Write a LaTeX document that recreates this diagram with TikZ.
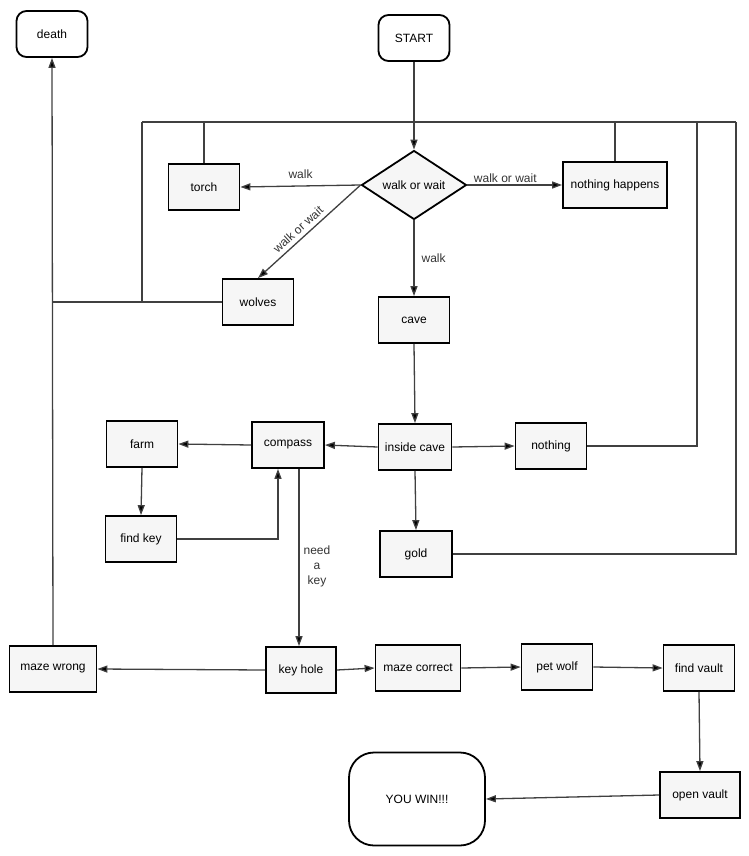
\documentclass[tikz,border=0pt]{standalone}
\usepackage{fontspec}
\setmainfont{Liberation Sans}
\usetikzlibrary{shapes.geometric,arrows.meta,calc}
\begin{document}
\begin{tikzpicture}[x=1pt,y=-1pt,
  font=\fontsize{12}{14}\selectfont,
  box/.style={draw=black,line width=1.8pt,fill=gray!7,minimum width=71pt,minimum height=46pt,inner sep=1pt},
  term/.style={box,rounded corners=10pt,fill=white},
  conn/.style={draw=black!75,line width=1.3pt},
  arr/.style={conn,-{Triangle[length=10pt,width=7pt,fill=black]}},
  lbl/.style={text=black!80,inner sep=1pt}]
\useasboundingbox (0,0) rectangle (749,856);
% nodes
\node[term] (death) at (52,34) {death};
\node[term] (start) at (414,38) {START};
\node[draw=black,line width=1.8pt,fill=gray!7,diamond,minimum width=105pt,minimum height=69pt,aspect=1.52,inner sep=0pt] (dia) at (414,185) {walk or wait};
\node[box] (torch) at (204,187) {torch};
\node[box,minimum width=104pt] (nh) at (615,185) {nothing happens};
\node[box] (wolves) at (258,302) {wolves};
\node[box] (cave) at (414,320) {cave};
\node[box,minimum width=73pt] (inside) at (415,447) {inside cave};
\node[box] (nothing) at (551,446) {nothing};
\node[box,minimum width=72pt] (compass) at (288,445) {compass};
\node[box] (farm) at (142,444) {farm};
\node[box] (findkey) at (141,539) {find key};
\node[box,minimum width=72pt] (gold) at (416,554) {gold};
\node[box,minimum width=87pt] (mazewrong) at (53,669) {maze wrong};
\node[box,minimum width=70pt] (keyhole) at (301,670) {key hole};
\node[box,minimum width=85pt] (mazecorrect) at (418,668) {maze correct};
\node[box] (petwolf) at (557,667) {pet wolf};
\node[box] (findvault) at (699,668) {find vault};
\node[box,minimum width=80pt] (openvault) at (700,795) {open vault};
\node[term,rounded corners=25pt,minimum width=136pt,minimum height=93pt] (win) at (417,799) {YOU WIN!!!};
% loop coordinates
\coordinate (tl) at (142,122);
\coordinate (tr1) at (697,122);
\coordinate (tr2) at (736,122);
% loop lines
\draw[conn] (tl) -- (tr2);
\draw[conn] (torch.north) -- (torch.north |- tl);
\draw[conn] (nh.north) -- (nh.north |- tl);
\draw[conn] (nothing.east) -| (tr1);
\draw[conn] (gold.east) -| (tr2);
\draw[conn] (tl) -- (tl |- wolves.west);
\draw[conn] (wolves.west) -- (wolves.west -| death.south);
% arrows
\draw[arr] (start.south) -- (dia.north);
\draw[arr] (dia.west) -- node[lbl,above=6pt,pos=0.5] {walk} (torch.east);
\draw[arr] (dia.west) -- node[lbl,sloped,above=3pt,pos=0.55] {walk or wait} (wolves.north);
\draw[arr] (dia.east) -- node[lbl,above=1pt,pos=0.4] {walk or wait} (nh.west);
\draw[arr] (dia.south) -- node[lbl,right=6pt,pos=0.5] {walk} (cave.north);
\draw[arr] (cave.south) -- (inside.north);
\draw[arr] (inside.west) -- (compass.east);
\draw[arr] (inside.east) -- (nothing.west);
\draw[arr] (inside.south) -- (gold.north);
\draw[arr] (compass.west) -- (farm.east);
\draw[arr] (farm.south) -- (findkey.north);
\draw[arr] (findkey.east) -| ([xshift=-10pt]compass.south);
\draw[arr] ([xshift=11pt]compass.south) -- node[lbl,right=3pt,pos=0.55,align=center,font=\fontsize{12}{15}\selectfont] {need\\a\\key} ([xshift=-2pt]keyhole.north);
\draw[arr] (keyhole.west) -- (mazewrong.east);
\draw[arr] (keyhole.east) -- (mazecorrect.west);
\draw[arr] (mazecorrect.east) -- (petwolf.west);
\draw[arr] (petwolf.east) -- (findvault.west);
\draw[arr] (findvault.south) -- (openvault.north);
\draw[arr] (openvault.west) -- (win.east);
\draw[arr] (mazewrong.north) -- (death.south);
\end{tikzpicture}
\end{document}
